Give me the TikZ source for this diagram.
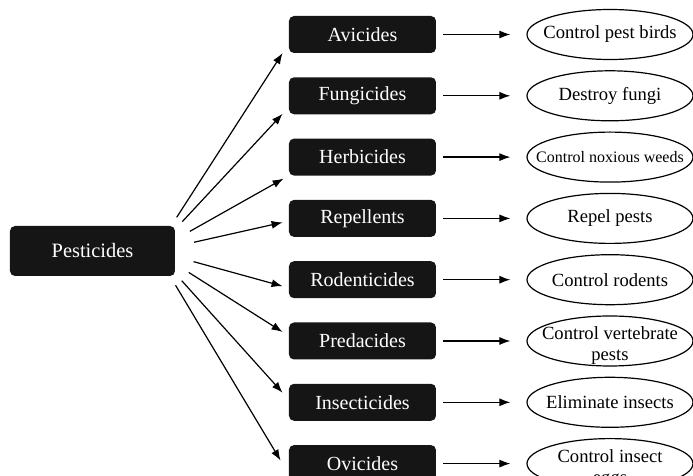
\documentclass[tikz,border=0pt]{standalone}
\usepackage{fontspec}
\setmainfont{Liberation Serif}
\usepackage{xcolor}
\usetikzlibrary{positioning,shapes.geometric,arrows.meta}

\definecolor{boxblack}{HTML}{151515}

\tikzset{
  rootbox/.style={rectangle,rounded corners=2.5pt,fill=boxblack,text=white,
    minimum width=82.5pt,minimum height=25pt,font=\fontsize{10.2}{12}\selectfont},
  classbox/.style={rectangle,rounded corners=2.5pt,fill=boxblack,text=white,
    minimum width=73.5pt,minimum height=18.5pt,font=\fontsize{10}{12}\selectfont},
  effect/.style={ellipse,draw,line width=0.6pt,minimum width=83pt,minimum height=25pt,inner sep=0pt},
  efftext/.style={align=center,inner sep=0pt,font=\fontsize{9.3}{10.5}\selectfont},
  fan/.style={line width=0.6pt,-{Latex[length=5.5pt,width=4pt]},shorten <=20pt},
  link/.style={line width=0.6pt,-{Latex[length=5.5pt,width=4pt]},shorten <=3.5pt,shorten >=8pt}
}

\begin{document}
\begin{tikzpicture}[x=0.5pt,y=-0.5pt]
    \useasboundingbox (0,0) rectangle (693,476);
    \node[rootbox] (pest) at (92.5,251) {Pesticides};
    \coordinate (hub) at (155,251);
    % classes
    \node[classbox] (avi) at (362.5,34.5) {Avicides};
    \node[classbox,below=11.75pt of avi] (fun) {Fungicides};
    \node[classbox,below=11.75pt of fun] (her) {Herbicides};
    \node[classbox,below=11.75pt of her] (rep) {Repellents};
    \node[classbox,below=11.75pt of rep] (rod) {Rodenticides};
    \node[classbox,below=11.75pt of rod] (pre) {Predacides};
    \node[classbox,below=11.75pt of pre] (ins) {Insecticides};
    \node[classbox,below=11.75pt of ins] (ovi) {Ovicides};
    % what they do
    \node[effect,right=45pt of avi,label={[efftext]center:Control pest birds}] (avie) {};
    \node[effect,right=45pt of fun,label={[efftext]center:Destroy fungi}] (fune) {};
    \node[effect,right=45pt of her,label={[efftext,font=\fontsize{8}{9}\selectfont]center:Control noxious weeds}] (here) {};
    \node[effect,right=45pt of rep,label={[efftext]center:Repel pests}] (repe) {};
    \node[effect,right=45pt of rod,label={[efftext]center:Control rodents}] (rode) {};
    \node[effect,right=45pt of pre,label={[efftext,yshift=-2.5pt]center:{Control vertebrate\\pests}}] (pree) {};
    \node[effect,right=45pt of ins,label={[efftext]center:Eliminate insects}] (inse) {};
    \node[effect,right=45pt of ovi,label={[efftext,yshift=-2.5pt]center:{Control insect\\eggs}}] (ovie) {};
    % fan out
    \draw[fan] (hub) -- ([shift={(-6,18.5)}]avi.west);
    \draw[fan] (hub) -- ([shift={(-6,18)}]fun.west);
    \draw[fan] (hub) -- ([shift={(-5,21.5)}]her.west);
    \draw[fan] (hub) -- ([shift={(-6,4)}]rep.west);
    \draw[fan] (hub) -- ([shift={(-6,6.5)}]rod.west);
    \draw[fan] (hub) -- ([shift={(-6,-9)}]pre.west);
    \draw[fan] (hub) -- ([shift={(-6,-9.5)}]ins.west);
    \draw[fan] (hub) -- ([shift={(-8,-3)}]ovi.west);
    % classes to effects
    \foreach \c in {avi,fun,her,rep,rod,pre,ins,ovi}
      \draw[link] (\c.east) -- (\c e.west);
\end{tikzpicture}
\end{document}
